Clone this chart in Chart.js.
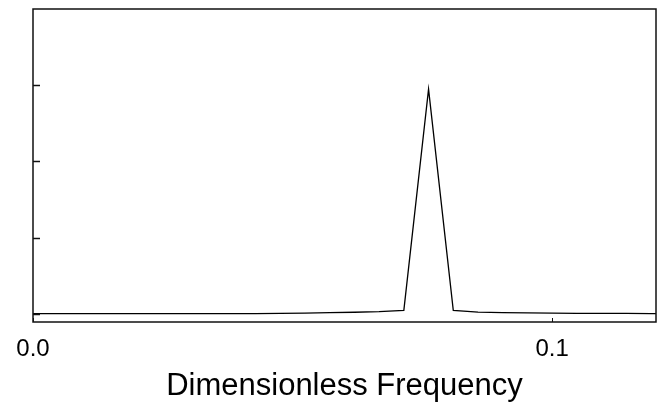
<!DOCTYPE html>
<html>
<head>
<meta charset="utf-8">
<script src="https://cdn.jsdelivr.net/npm/chart.js@4/dist/chart.umd.min.js"></script>
<style>
  html, body { margin: 0; padding: 0; background: #fff; }
  #wrap { width: 667px; height: 405px; }
</style>
</head>
<body>
<div id="wrap"><canvas id="c" width="667" height="405"></canvas></div>
<script>
// Dimensionless frequency samples (k/210)
const frequencies = [0, 1/210, 2/210, 3/210, 4/210, 5/210, 6/210, 7/210, 8/210, 9/210,
  10/210, 11/210, 12/210, 13/210, 14/210, 15/210, 16/210, 17/210, 18/210, 19/210,
  20/210, 21/210, 22/210, 23/210, 24/210, 25/210, 26/210];
const amplitudes = [0.005, 0.005, 0.005, 0.005, 0.005, 0.005, 0.005, 0.005, 0.005, 0.006,
  0.008, 0.012, 0.017, 0.023, 0.030, 0.048, 2.95, 0.048, 0.025, 0.018,
  0.014, 0.011, 0.009, 0.008, 0.007, 0.006, 0.006];
const xTickValues = [0, 0.1];
const yTickValues = [0, 1, 2, 3];
const xTitle = 'Dimensionless Frequency';

const FONT = '"Liberation Sans", Arial, Helvetica, sans-serif';

const framePlugin = {
  id: 'frame',
  afterDraw(chart) {
    const { ctx, chartArea: a, scales } = chart;
    ctx.save();
    ctx.strokeStyle = '#111';
    ctx.lineWidth = 1.5;
    ctx.strokeRect(a.left, a.top, a.right - a.left, a.bottom - a.top);
    ctx.lineWidth = 1.5;
    yTickValues.forEach(v => {
      const y = Math.round(scales.y.getPixelForValue(v)) + 0.5;
      ctx.beginPath();
      ctx.moveTo(a.left, y);
      ctx.lineTo(a.left + 7, y);
      ctx.stroke();
    });
    ctx.lineWidth = 1;
    xTickValues.forEach(v => {
      const x = Math.round(scales.x.getPixelForValue(v)) + 0.5;
      ctx.beginPath();
      ctx.moveTo(x, a.bottom);
      ctx.lineTo(x, a.bottom - 4);
      ctx.stroke();
    });
    ctx.restore();
  }
};

new Chart(document.getElementById('c'), {
  type: 'line',
  data: {
    datasets: [{
      data: frequencies.map((f, i) => ({ x: f, y: amplitudes[i] })),
      borderColor: '#000',
      borderWidth: 1.3,
      pointRadius: 0,
      tension: 0,
      fill: false
    }]
  },
  options: {
    responsive: false,
    animation: false,
    devicePixelRatio: 1,
    layout: { padding: { left: 33, right: 11, top: 9, bottom: 0 } },
    plugins: { legend: { display: false }, tooltip: { enabled: false } },
    scales: {
      x: {
        type: 'linear',
        min: 0,
        max: 0.12,
        position: 'bottom',
        afterBuildTicks(scale) { scale.ticks = xTickValues.map(v => ({ value: v })); },
        afterFit(scale) { scale.height = 83; },
        grid: { display: false, drawOnChartArea: false, drawTicks: false },
        border: { display: false },
        ticks: {
          autoSkip: false,
          maxRotation: 0,
          padding: 13,
          color: '#000',
          font: { family: FONT, size: 24 },
          callback: v => Number(v).toFixed(1)
        },
        title: {
          display: true,
          text: xTitle,
          color: '#000',
          font: { family: FONT, size: 31 },
          padding: { top: 2, bottom: 0 }
        }
      },
      y: {
        type: 'linear',
        min: -0.105,
        max: 4.0,
        display: false
      }
    }
  },
  plugins: [framePlugin]
});
</script>
</body>
</html>
